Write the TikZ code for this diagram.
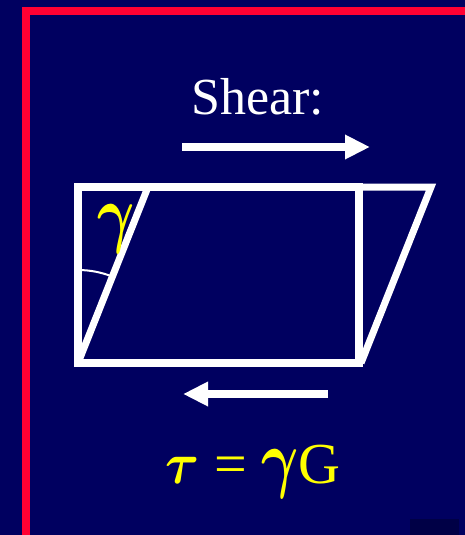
\documentclass[tikz,border=0pt]{standalone}
\usepackage{fontspec}
\setmainfont{Liberation Serif}
\usetikzlibrary{arrows.meta}
\definecolor{slidebg}{HTML}{000060}
\definecolor{slidered}{HTML}{FF0033}
\definecolor{slideyellow}{HTML}{FFFF00}
\definecolor{slidedark}{HTML}{000046}
\newcommand{\tallgamma}{{\normalsize\boldmath\scalebox{5.7}[7.6]{$\gamma$}}}
\newcommand{\bigtau}{{\normalsize\boldmath\scalebox{5.2}[5.9]{$\tau$}}}
\begin{document}
\begin{tikzpicture}[x=1pt, y=-1pt]
    \fill[slidebg] (0,0) rectangle (465,535);
    \useasboundingbox (0,0) rectangle (465,535);
    \fill[slidedark] (410,519) rectangle (459,535);
    \draw[slidered, line width=8pt] (26,535) -- (26,11) -- (465,11);

    \node[white, anchor=base, font=\fontsize{52}{60}\selectfont] (shearlabel)
    at (258,114) {Shear:};

    \coordinate (topstart) at (182,147);
    \coordinate (topend) at (370,147);
    \draw[white, line width=8pt, -{Triangle[length=25pt, width=23pt]}]
    (topstart) -- (topend);

    \pgfmathsetmacro{\slant}{70}
    \draw[white, line width=8pt] (78,187) rectangle (359,363);
    \draw[white, line width=7pt] (78,363) -- (78+\slant,187) -- (359+\slant+2,187)
    -- (361,363);

    \coordinate (corner) at (78,363);
    \draw[white, line width=2pt] (78,270) arc[start angle=-90, end angle=-68.3,
    radius=93];
    \node[slideyellow, anchor=base, font=\fontsize{58}{66}\selectfont]
    (anglelabel) at (116,238) {\tallgamma};

    \coordinate (botstart) at (328,394);
    \coordinate (botend) at (183,394);
    \draw[white, line width=8pt, -{Triangle[length=25pt, width=23pt]}]
    (botstart) -- (botend);

    \node[slideyellow, anchor=base, font=\fontsize{58}{66}\selectfont] (hookelaw)
    at (253,483) {\bigtau{} = \tallgamma G};
\end{tikzpicture}
\end{document}
